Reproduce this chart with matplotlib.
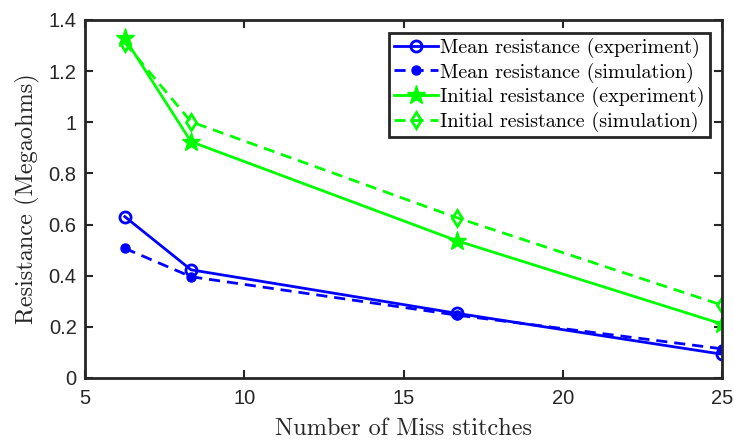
import matplotlib
matplotlib.use('Agg')
import matplotlib.pyplot as plt

# miss stitches per sample
miss_stitches = [6.25, 8.33, 16.67, 25]

# resistance values in megaohms
mean_exp = [0.631, 0.423, 0.253, 0.093]
mean_sim = [0.507, 0.396, 0.246, 0.114]
init_exp = [1.328, 0.924, 0.537, 0.211]
init_sim = [1.311, 1.002, 0.627, 0.285]

fig = plt.figure(figsize=(7.34, 4.42), dpi=100)
ax = fig.add_axes([0.1158, 0.1448, 0.8679, 0.81])

dash = (4, 2.5)
ax.plot(miss_stitches, mean_exp, '-', color='#0000ff', lw=2, marker='o',
        ms=8, mfc='none', mew=2, label='Mean resistance (experiment)')
ax.plot(miss_stitches, mean_sim, '--', color='#0000ff', lw=2, marker='.',
        ms=13, dashes=dash, label='Mean resistance (simulation)')
ax.plot(miss_stitches, init_exp, '-', color='#00ff00', lw=2, marker='*',
        ms=14, label='Initial resistance (experiment)')
ax.plot(miss_stitches, init_sim, '--', color='#00ff00', lw=2, marker='d',
        ms=8, mfc='none', mew=2, dashes=dash,
        label='Initial resistance (simulation)')

ax.set_xlim(5, 25)
ax.set_ylim(0, 1.4)
ax.set_xticks([5, 10, 15, 20, 25])
ax.set_yticks([0, 0.2, 0.4, 0.6, 0.8, 1.0, 1.2, 1.4])
ax.set_yticklabels(['0', '0.2', '0.4', '0.6', '0.8', '1', '1.2', '1.4'])

for s in ax.spines.values():
    s.set_linewidth(2)
    s.set_color('#262626')
ax.tick_params(direction='in', length=6, width=1.5, top=True, right=True,
               color='#262626', labelcolor='#262626', labelsize=14.5)
ax.tick_params(axis='x', pad=8)
ax.tick_params(axis='y', pad=6)
for lbl in ax.get_xticklabels() + ax.get_yticklabels():
    lbl.set_family('Liberation Sans')

ax.set_xlabel('Number of Miss stitches', family='cmr10', fontsize=17.5,
              color='#262626', labelpad=7)
ax.set_ylabel('Resistance (Megaohms)', family='cmr10', fontsize=17.5,
              color='#262626', labelpad=6)

leg = ax.legend(loc='upper right', bbox_to_anchor=(0.981, 0.964),
                prop={'family': 'cmr10', 'size': 14.5}, fancybox=False,
                framealpha=1, edgecolor='#262626', handlelength=2.2,
                handletextpad=0.1, labelspacing=0.22, borderpad=0.25,
                borderaxespad=0)
leg.get_frame().set_linewidth(2)

fig.savefig('out.png', dpi=100)
